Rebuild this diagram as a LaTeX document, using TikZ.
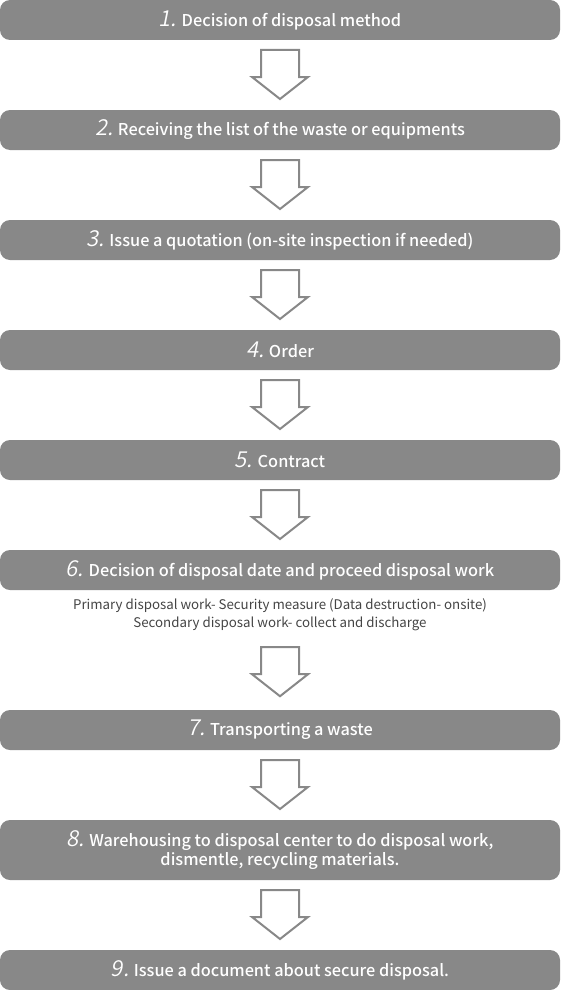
\documentclass[tikz,border=0pt]{standalone}
\usepackage{fontspec}
\setmainfont{Noto Sans CJK KR}[AutoFakeSlant=0.2]
\newfontfamily\boxfont{Noto Sans CJK KR Medium}
\newfontfamily\numfont{Noto Sans CJK KR DemiLight}[FakeSlant=0.2]
\usetikzlibrary{calc}
\definecolor{boxgray}{HTML}{888888}
\definecolor{notegray}{HTML}{444444}
\newcommand{\stepno}[1]{{\numfont\fontsize{22}{22}\selectfont #1}}
\tikzset{
  stepbox/.style={fill=boxgray, rounded corners=10pt, minimum width=560pt,
    minimum height=40pt, inner sep=0pt, text=white, align=center,
    font=\boxfont\fontsize{16.3}{19}\selectfont},
  notetext/.style={text=notegray, align=center, font=\fontsize{13.3}{18}\selectfont},
  hollow/.style={draw=boxgray, line width=2pt, fill=white},
  flowarrow/.pic={
    \draw[hollow] (-19,-25) -- (19,-25) -- (19,2) -- (28,2) -- (0,24)
      -- (-28,2) -- (-19,2) -- cycle;
  }
}
\begin{document}
\begin{tikzpicture}[x=1pt,y=-1pt]
  \useasboundingbox (0,0) rectangle (560,990);
  \node[stepbox] (b1) at (280,20) {\stepno{1.} Decision of disposal method};
  \node[stepbox] (b2) at (280,130) {\stepno{2.} Receiving the list of the waste or equipments};
  \node[stepbox] (b3) at (280,240) {\stepno{3.} Issue a quotation (on-site inspection if needed)};
  \node[stepbox] (b4) at (280,350) {\stepno{4.} Order};
  \node[stepbox] (b5) at (280,460) {\stepno{5.} Contract};
  \node[stepbox] (b6) at (280,570) {\stepno{6.} Decision of disposal date and proceed disposal work};
  \node[notetext] (n6) at (280,615) {Primary disposal work- Security measure (Data destruction- onsite)\\
    Secondary disposal work- collect and discharge};
  \node[stepbox] (b7) at (280,730) {\stepno{7.} Transporting a waste};
  \node[stepbox, minimum height=60pt] (b8) at (280,850)
    {\stepno{8.} Warehousing to disposal center to do disposal work,\\dismentle, recycling materials.};
  \node[stepbox] (b9) at (280,970) {\stepno{9.} Issue a document about secure disposal.};
  % arrows between the steps
  \foreach \a/\b in {b1/b2,b2/b3,b3/b4,b4/b5,b5/b6,b7/b8,b8/b9}{
    \path ($(\a.south)!0.5!(\b.north)$) pic {flowarrow};
  }
  \path ($(n6.south)!0.5!(b7.north)$) pic {flowarrow};
\end{tikzpicture}
\end{document}
